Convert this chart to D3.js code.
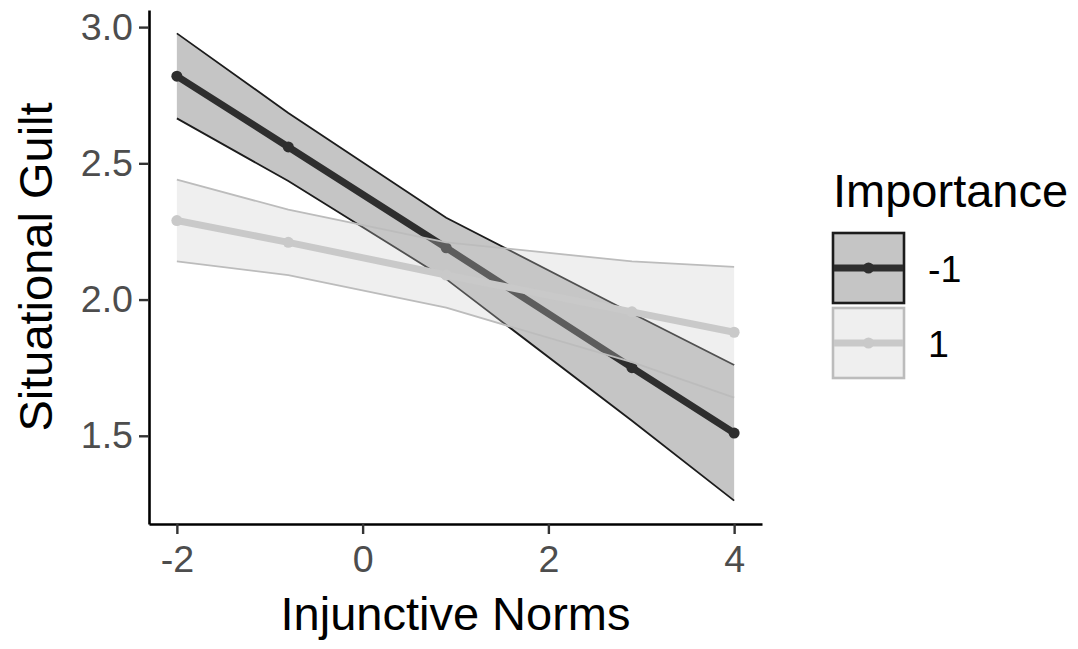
<!DOCTYPE html>
<html>
<head>
<meta charset="utf-8">
<script src="https://cdn.jsdelivr.net/npm/d3@7"></script>
<style>
  body { margin: 0; background: #fff; }
  svg text { font-family: "Liberation Sans", Arial, sans-serif; }
</style>
</head>
<body>
<div id="chart"></div>
<script>
// values
const xValues = [-2, -0.8, 0.9, 2.9, 4];
const groups = ['-1', '1'];
const fitLow = [2.82, 2.56, 2.19, 1.75, 1.51];        // Importance = -1
const upperLow = [2.977, 2.685, 2.30, 1.95, 1.76];
const lowerLow = [2.665, 2.435, 2.075, 1.555, 1.262];
const fitHigh = [2.29, 2.21, 2.09, 1.955, 1.88];      // Importance = 1
const upperHigh = [2.44, 2.33, 2.21, 2.14, 2.12];
const lowerHigh = [2.14, 2.09, 1.97, 1.77, 1.64];
const xTicks = [-2, 0, 2, 4];
const yTicks = [1.5, 2.0, 2.5, 3.0];

const W = 1078, H = 649;
const margin = { top: 10, right: 316, bottom: 125, left: 149 };
const width = W - margin.left - margin.right;
const height = H - margin.top - margin.bottom;

const series = [
  { key: groups[0], fit: fitLow, up: upperLow, lo: lowerLow, color: '#2e2e2e', edge: '#1c1c1c', fillOp: 0.28 },
  { key: groups[1], fit: fitHigh, up: upperHigh, lo: lowerHigh, color: '#c9c9c9', edge: '#bcbcbc', fillOp: 0.3 }
];

// ggplot-like 5% expansion
function expand(ext) {
  const pad = (ext[1] - ext[0]) * 0.05;
  return [ext[0] - pad, ext[1] + pad];
}
const allY = [].concat(upperLow, lowerLow, upperHigh, lowerHigh);

const x = d3.scaleLinear().domain(expand(d3.extent(xValues))).range([0, width]);
const y = d3.scaleLinear().domain(expand(d3.extent(allY))).range([height, 0]);

const svg = d3.select('#chart').append('svg')
  .attr('width', W)
  .attr('height', H)
  .style('background', '#fff');

const g = svg.append('g').attr('transform', `translate(${margin.left},${margin.top})`);

const area = d3.area()
  .x(d => x(d.x))
  .y0(d => y(d.lo))
  .y1(d => y(d.up));
const line = d3.line()
  .x(d => x(d.x))
  .y(d => y(d.v));

series.forEach(s => {
  const pts = xValues.map((xv, i) => ({ x: xv, v: s.fit[i], lo: s.lo[i], up: s.up[i] }));
  const grp = g.append('g').attr('class', 'series');

  grp.append('path')
    .datum(pts)
    .attr('d', area)
    .attr('fill', s.color)
    .attr('fill-opacity', s.fillOp);

  grp.append('path')
    .datum(pts.map(p => ({ x: p.x, v: p.up })))
    .attr('d', line)
    .attr('fill', 'none')
    .attr('stroke', s.edge)
    .attr('stroke-width', 1.8);

  grp.append('path')
    .datum(pts.map(p => ({ x: p.x, v: p.lo })))
    .attr('d', line)
    .attr('fill', 'none')
    .attr('stroke', s.edge)
    .attr('stroke-width', 1.8);

  grp.append('path')
    .datum(pts)
    .attr('d', line)
    .attr('fill', 'none')
    .attr('stroke', s.color)
    .attr('stroke-width', 7);

  grp.selectAll('circle')
    .data(pts)
    .join('circle')
    .attr('cx', d => x(d.x))
    .attr('cy', d => y(d.v))
    .attr('r', 5.5)
    .attr('fill', s.color);
});

// axes
const xAxis = g.append('g')
  .attr('transform', `translate(0,${height})`)
  .call(d3.axisBottom(x).tickValues(xTicks).tickSize(10).tickSizeOuter(0).tickPadding(11).tickFormat(d3.format('d')));

const yAxis = g.append('g')
  .call(d3.axisLeft(y).tickValues(yTicks).tickSize(10).tickSizeOuter(0).tickPadding(6).tickFormat(d3.format('.1f')));

[xAxis, yAxis].forEach(a => {
  a.select('.domain').attr('stroke', '#000').attr('stroke-width', 2.6);
  a.selectAll('.tick line').attr('stroke', '#333').attr('stroke-width', 2.4);
  a.selectAll('.tick text')
    .attr('fill', '#4d4d4d')
    .style('font-size', '37.6px')
    .style('font-family', '"Liberation Sans", Arial, sans-serif');
});
xAxis.selectAll('.tick text').text(d => d < 0 ? '-' + Math.abs(d) : d);

// axis titles
svg.append('text')
  .attr('x', margin.left + width / 2)
  .attr('y', 630)
  .attr('text-anchor', 'middle')
  .style('font-size', '47px')
  .attr('fill', '#000')
  .text('Injunctive Norms');

svg.append('text')
  .attr('transform', `translate(52,${margin.top + height / 2}) rotate(-90)`)
  .attr('text-anchor', 'middle')
  .style('font-size', '47px')
  .attr('fill', '#000')
  .text('Situational Guilt');

// legend
const legend = svg.append('g').attr('transform', 'translate(833,0)');
legend.append('text')
  .attr('x', 0)
  .attr('y', 207)
  .style('font-size', '47px')
  .attr('fill', '#000')
  .text('Importance');

const keyW = 71, keyH = 70;
const keyTop = [233, 308];
series.forEach((s, i) => {
  const k = legend.append('g').attr('transform', `translate(0,${keyTop[i]})`);
  k.append('rect')
    .attr('x', 0).attr('y', 0)
    .attr('width', keyW).attr('height', keyH)
    .attr('fill', s.color)
    .attr('fill-opacity', s.fillOp)
    .attr('stroke', s.edge)
    .attr('stroke-width', 2.6);
  k.append('line')
    .attr('x1', 1).attr('x2', keyW - 1)
    .attr('y1', keyH / 2).attr('y2', keyH / 2)
    .attr('stroke', s.color)
    .attr('stroke-width', 7);
  k.append('circle')
    .attr('cx', keyW / 2).attr('cy', keyH / 2)
    .attr('r', 5.5)
    .attr('fill', s.color);
  k.append('text')
    .attr('x', 95)
    .attr('y', keyH / 2 + 14)
    .style('font-size', '37.6px')
    .attr('fill', '#000')
    .text(s.key);
});
</script>
</body>
</html>
